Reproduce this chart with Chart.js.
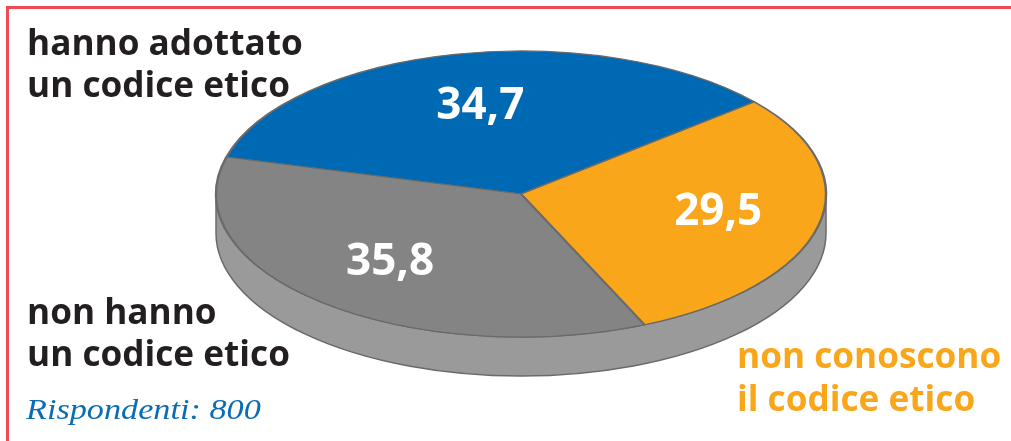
<!DOCTYPE html>
<html lang="it">
<head>
    <meta charset="UTF-8">
    <title>Codice etico</title>
    <script src="https://cdn.jsdelivr.net/npm/chart.js"></script>
    <style>
        html, body { margin: 0; padding: 0; background: #fff; overflow: hidden; }
        #wrap { position: relative; width: 1011px; height: 441px; }
        #frame { position: absolute; left: 6px; top: 6px; right: 0; bottom: 0;
                 border-top: 3px solid #ef4b55; border-left: 3px solid #ef4b55; }
        #chart { position: absolute; left: 0; top: 0; }
    </style>
</head>
<body>
    <div id="wrap">
        <div id="frame"></div>
        <canvas id="chart" width="1011" height="441"></canvas>
    </div>

    <script>
        // Data
        const categories = ['hanno adottato un codice etico', 'non conoscono il codice etico', 'non hanno un codice etico'];
        const values = [34.7, 29.5, 35.8];
        const valueLabels = ['34,7', '29,5', '35,8'];
        const sliceColors = ['#0069b4', '#faa61a', '#848484'];
        const respondents = 'Rispondenti: 800';

        const TILT = 0.469;   // flattening of the disc
        const DEPTH = 39;     // height of the side wall
        const SANS = '"Open Sans"';
        const labelNudge = [[1, 0], [10, -2], [-6, 0]];   // value labels sit a bit off the slice middle

        // Flattens the pie into an ellipse and draws the wall under it
        const tiltPlugin = {
            id: 'tilt',
            beforeDatasetsDraw(chart) {
                const ctx = chart.ctx;
                const arc = chart.getDatasetMeta(0).data[0];
                const { x, y, outerRadius } = arc;
                const ry = outerRadius * TILT;
                ctx.save();
                ctx.beginPath();
                ctx.ellipse(x, y, outerRadius, ry, 0, Math.PI, 0, true);
                ctx.lineTo(x + outerRadius, y + DEPTH);
                ctx.ellipse(x, y + DEPTH, outerRadius, ry, 0, 0, Math.PI);
                ctx.closePath();
                ctx.fillStyle = '#9a9a9a';
                ctx.strokeStyle = '#6a6a6a';
                ctx.lineWidth = 1.5;
                ctx.fill();
                ctx.stroke();
                ctx.restore();

                ctx.save();
                ctx.translate(x, y);
                ctx.scale(1, TILT);
                ctx.translate(-x, -y);
            },
            afterDatasetsDraw(chart) {
                chart.ctx.restore();
            }
        };

        // Values inside the slices, outside labels
        const labelPlugin = {
            id: 'labels',
            afterDraw(chart) {
                const ctx = chart.ctx;
                ctx.save();
                ctx.textBaseline = 'middle';
                ctx.textAlign = 'center';
                ctx.font = `bold 44px ${SANS}`;
                ctx.fillStyle = '#fff';
                chart.getDatasetMeta(0).data.forEach((arc, i) => {
                    const mid = (arc.startAngle + arc.endAngle) / 2;
                    const r = arc.outerRadius * 0.63;
                    ctx.fillText(valueLabels[i],
                        arc.x + Math.cos(mid) * r + labelNudge[i][0],
                        arc.y + Math.sin(mid) * r * TILT + labelNudge[i][1]);
                });

                ctx.textBaseline = 'alphabetic';
                ctx.textAlign = 'left';
                ctx.font = `bold 35.2px ${SANS}`;
                ctx.fillStyle = '#231f20';
                ctx.fillText('hanno adottato', 27, 55);
                ctx.fillText('un codice etico', 27, 97);
                ctx.fillText('non hanno', 27, 324);
                ctx.fillText('un codice etico', 27, 366);
                ctx.fillStyle = '#faa61a';
                ctx.fillText('non conoscono', 737, 368);
                ctx.fillText('il codice etico', 737, 411);

                // the original face is wider than Liberation Serif
                ctx.translate(26, 419);
                ctx.scale(1.18, 1);
                ctx.font = 'italic 29px "Liberation Serif"';
                ctx.fillStyle = '#0a6cb5';
                ctx.fillText(respondents, 0, 0);
                ctx.restore();
            }
        };

        new Chart(document.getElementById('chart'), {
            type: 'pie',
            data: {
                labels: categories,
                datasets: [{
                    data: values,
                    backgroundColor: sliceColors,
                    borderColor: '#6a6a6a',
                    borderWidth: 2.5,
                    clip: false
                }]
            },
            options: {
                responsive: false,
                animation: false,
                rotation: 285,
                radius: 305,
                layout: { padding: { left: 31, bottom: 53 } },
                plugins: { legend: { display: false }, tooltip: { enabled: false } }
            },
            plugins: [tiltPlugin, labelPlugin]
        });
    </script>
</body>
</html>
